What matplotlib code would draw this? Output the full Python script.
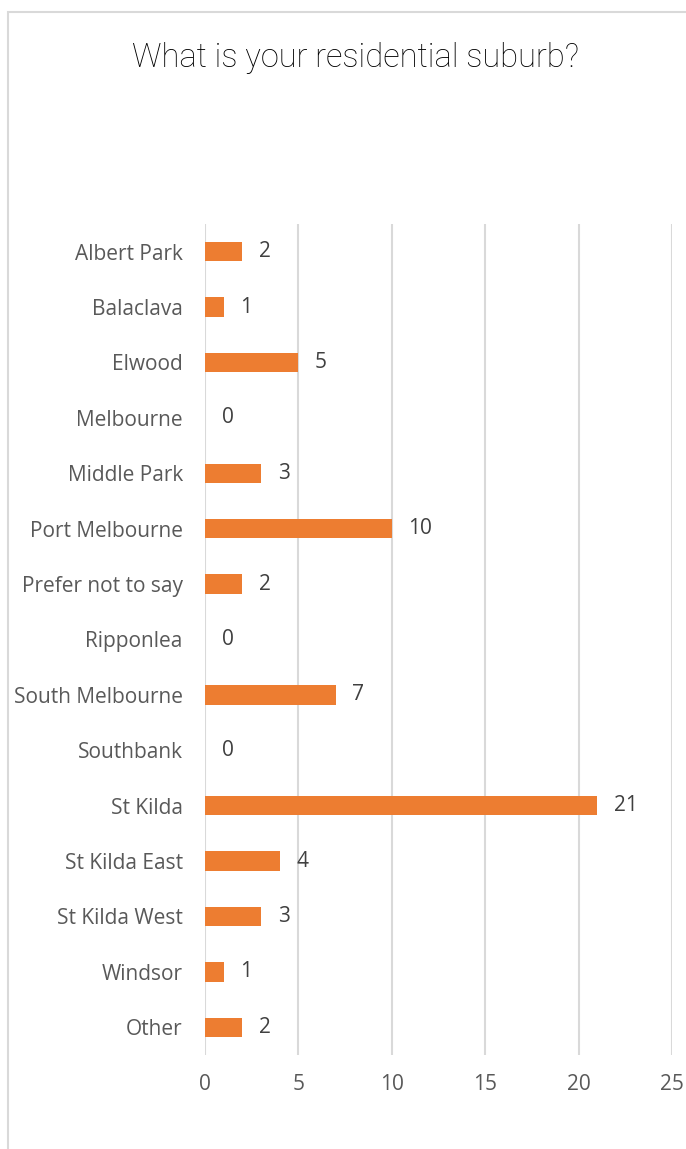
import matplotlib.pyplot as plt
from matplotlib.patches import Rectangle

suburbs = ["Albert Park", "Balaclava", "Elwood", "Melbourne", "Middle Park",
           "Port Melbourne", "Prefer not to say", "Ripponlea", "South Melbourne",
           "Southbank", "St Kilda", "St Kilda East", "St Kilda West", "Windsor", "Other"]
counts = [2, 1, 5, 0, 3, 10, 2, 0, 7, 0, 21, 4, 3, 1, 2]
x_ticks = [0, 5, 10, 15, 20, 25]

BAR_COLOR = "#ed7d31"
GRID_COLOR = "#d9d9d9"
TEXT_COLOR = "#595959"
FONT = "Open Sans"

fig = plt.figure(figsize=(6.86, 11.49), dpi=100)

# light frame around the chart area
frame = Rectangle((8 / 686, -0.05), 1.0, 1 - 12 / 1149 + 0.05, transform=fig.transFigure,
                  fill=False, edgecolor=GRID_COLOR, linewidth=1.5)
fig.patches.append(frame)

fig.text(356 / 686, 1 - 58 / 1149, "What is your residential suburb?",
         ha="center", va="center", fontsize=23.5, color="#000000",
         family="Roboto", fontweight="light")

ax = fig.add_axes([205 / 686, 1 - 1055 / 1149, (672 - 205) / 686, (1055 - 224) / 1149])
pos = list(range(len(suburbs)))
ax.barh(pos, counts, height=0.35, color=BAR_COLOR, zorder=3)

for p, c in zip(pos, counts):
    ax.annotate(str(c), (c, p), xytext=(12, 0), textcoords="offset points",
                ha="left", va="center", fontsize=15, color="#404040", family=FONT)

ax.set_xlim(0, 25)
ax.set_ylim(len(suburbs) - 0.5, -0.5)
ax.set_xticks(x_ticks)
ax.set_yticks(pos)
ax.set_yticklabels(suburbs)
ax.grid(axis="x", color=GRID_COLOR, linewidth=1.5, zorder=0)
for s in ax.spines.values():
    s.set_visible(False)
ax.tick_params(axis="both", length=0, labelcolor=TEXT_COLOR, labelsize=15)
ax.tick_params(axis="y", pad=16)
ax.tick_params(axis="x", pad=14)
for lbl in ax.get_xticklabels() + ax.get_yticklabels():
    lbl.set_family(FONT)

fig.savefig("out.png", dpi=100)
